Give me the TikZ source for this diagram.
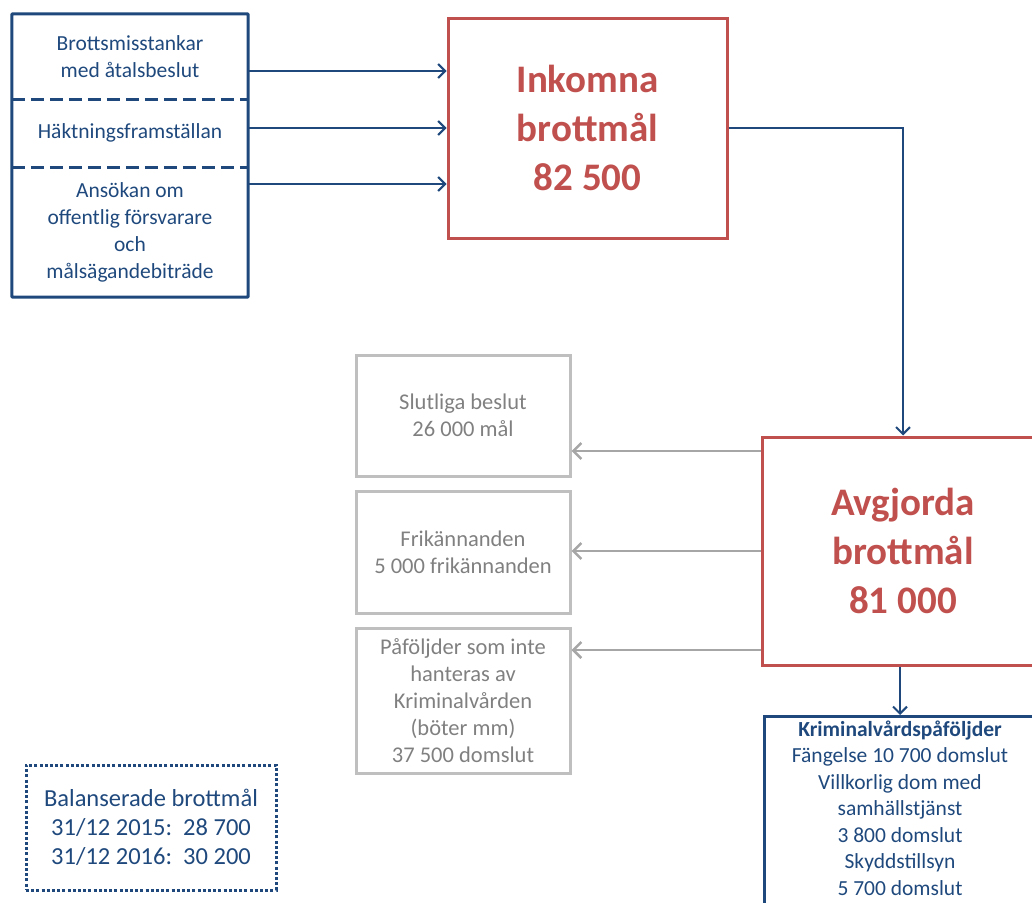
\documentclass[tikz,border=0pt]{standalone}
\usepackage{fontspec}
\setmainfont{Carlito}
\usetikzlibrary{arrows.meta}
\definecolor{navy}{RGB}{31,73,125}
\definecolor{brick}{RGB}{192,80,77}
\definecolor{boxgray}{RGB}{191,191,191}
\definecolor{textgray}{RGB}{128,128,128}
\definecolor{arrowgray}{RGB}{166,166,166}
\tikzset{
  bluetext/.style={text=navy, font=\fontsize{21.5}{27}\selectfont, align=center, inner sep=0pt},
  redbox/.style={draw=brick, line width=3pt, text=brick, font=\fontsize{39}{49}\selectfont\bfseries, align=center, inner sep=0pt},
  graybox/.style={draw=boxgray, line width=3pt, text=textgray, font=\fontsize{22.5}{27}\selectfont, align=center, inner sep=0pt, minimum width=214pt},
  bluearrow/.style={draw=navy, line width=2pt, -{Straight Barb[length=7pt,width=14pt,line width=2pt]}},
  grayarrow/.style={draw=arrowgray, line width=2.5pt, -{Straight Barb[length=8pt,width=16pt,line width=2.5pt]}},
}
\begin{document}
\begin{tikzpicture}[x=1pt,y=-1pt]
\useasboundingbox (0,0) rectangle (1032,902);
\clip (0,0) rectangle (1032,902);

% sources of incoming cases
\node[bluetext, minimum width=236pt, minimum height=85pt] (src1) at (130,56.5) {Brottsmisstankar\\med åtalsbeslut};
\node[bluetext, minimum width=236pt, minimum height=68pt] (src2) at (130,133) {Häktningsframställan};
\node[bluetext, minimum width=236pt, minimum height=130pt] (src3) at (130,232) {Ansökan om\\offentlig försvarare\\och\\målsägandebiträde};
\draw[navy, line width=3pt, rounded corners=1pt] (src1.north west) rectangle (src3.south east);
\draw[navy, line width=3pt, dash pattern=on 13pt off 6pt] (src1.south west) -- (src1.south east);
\draw[navy, line width=3pt, dash pattern=on 13pt off 6pt] (src2.south west) -- (src2.south east);

% incoming and decided cases
\node[redbox, minimum width=279pt, minimum height=220pt] (ink) at (587.5,128) {Inkomna\\brottmål\\82 500};
\node[redbox, minimum width=282pt, minimum height=228pt] (avg) at (903,551) {Avgjorda\\brottmål\\81 000};

\coordinate (inkA) at ([yshift=57pt]ink.west);
\coordinate (inkC) at ([yshift=-56pt]ink.west);
\draw[bluearrow] (src1.east |- inkA) -- (inkA);
\draw[bluearrow] (src2.east |- ink.west) -- (ink.west);
\draw[bluearrow] (src3.east |- inkC) -- (inkC);
\draw[bluearrow] (ink.east) -| (avg.north);

% outcomes outside the probation service
\node[graybox, minimum height=121pt] (g1) at (463,415.5) {Slutliga beslut\\26 000 mål};
\node[graybox, minimum height=122pt] (g2) at (463,552) {Frikännanden\\5 000 frikännanden};
\node[graybox, minimum height=145pt] (g3) at (463,700.5) {Påföljder som inte\\hanteras av\\Kriminalvården\\(böter mm)\\37 500 domslut};

\coordinate (avgA) at ([yshift=100pt]avg.west);
\coordinate (avgC) at ([yshift=-99pt]avg.west);
\draw[grayarrow] (avgA) -- (g1.east |- avgA);
\draw[grayarrow] (avg.west) -- (g2.east |- avg.west);
\draw[grayarrow] (avgC) -- (g3.east |- avgC);

% probation service sanctions
\node[draw=navy, line width=3pt, text=navy, font=\fontsize{21.5}{26.5}\selectfont, align=center,
      anchor=north, minimum width=272pt, minimum height=210pt, inner sep=0pt, text depth=0pt]
      (krim) at (900,715) {\raisebox{0pt}[15pt]{\bfseries Kriminalvårdspåföljder}\\Fängelse 10 700 domslut\\Villkorlig dom med\\samhällstjänst\\3 800 domslut\\Skyddstillsyn\\5 700 domslut\\\strut};
\draw[bluearrow] (avg.south -| krim.north) -- (krim.north);

% pending cases
\node[draw=navy, line width=3pt, dash pattern=on 3pt off 2.2pt, text=navy,
      font=\fontsize{24.5}{29}\selectfont, align=center, inner sep=0pt,
      minimum width=250pt, minimum height=125pt] (bal) at (151,827.5)
      {Balanserade brottmål\\31/12 2015:\ \ 28 700\\31/12 2016:\ \ 30 200};
\end{tikzpicture}
\end{document}
